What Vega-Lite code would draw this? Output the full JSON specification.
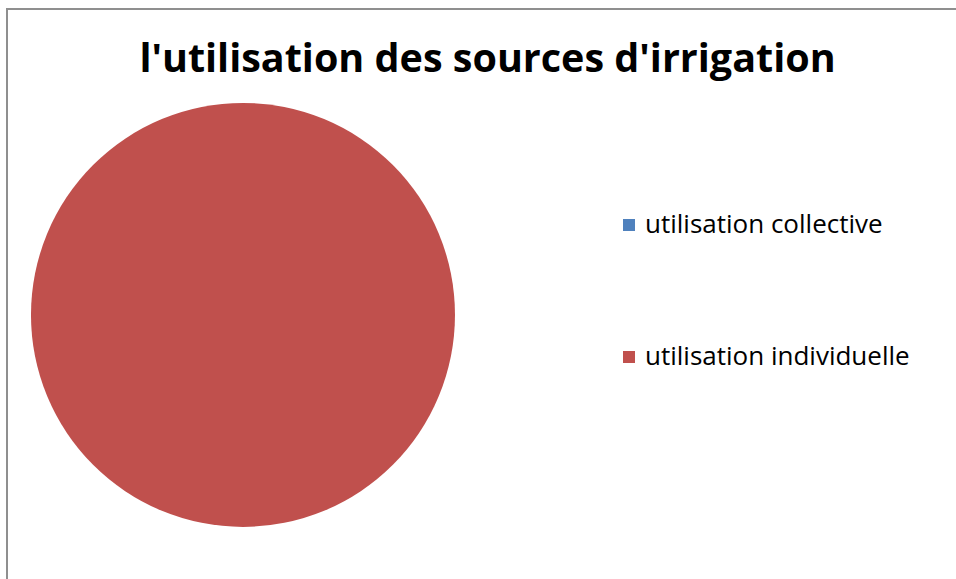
{
  "$schema": "https://vega.github.io/schema/vega-lite/v6.json",
  "autosize": "none",
  "width": 955,
  "height": 575,
  "padding": {"left": 7, "top": 9, "right": 0, "bottom": 0},
  "background": "white",
  "view": {"stroke": "#8f8f8f", "strokeWidth": 2, "fill": "white"},
  "config": {
    "font": "Open Sans"
  },
  "title": {
    "text": "l'utilisation des sources d'irrigation",
    "font": "Open Sans",
    "fontSize": 39.5,
    "fontWeight": "bold",
    "color": "#000000",
    "anchor": "middle",
    "frame": "group",
    "baseline": "alphabetic",
    "offset": -63,
    "dx": 3,
    "dy": 39
  },
  "data": {
    "values": [
      {"source": "utilisation collective", "value": 0},
      {"source": "utilisation individuelle", "value": 100}
    ]
  },
  "mark": {
    "type": "arc",
    "outerRadius": 212,
    "x": {"expr": "width * 0.2471"},
    "y": {"expr": "height * 0.532"}
  },
  "encoding": {
    "theta": {"field": "value", "type": "quantitative", "stack": true},
    "color": {
      "field": "source",
      "type": "nominal",
      "sort": ["utilisation collective", "utilisation individuelle"],
      "scale": {
        "domain": ["utilisation collective", "utilisation individuelle"],
        "range": ["#4F81BD", "#C0504D"]
      },
      "legend": {
        "title": null,
        "orient": "none",
        "legendX": 609,
        "legendY": 203,
        "padding": 0,
        "symbolType": "square",
        "symbolSize": 144,
        "symbolStrokeWidth": 0,
        "symbolOpacity": 1,
        "labelFont": "Open Sans",
        "labelFontSize": 26,
        "labelColor": "#000000",
        "labelOffset": 3,
        "rowPadding": 106,
        "labelLimit": 400
      }
    }
  }
}
